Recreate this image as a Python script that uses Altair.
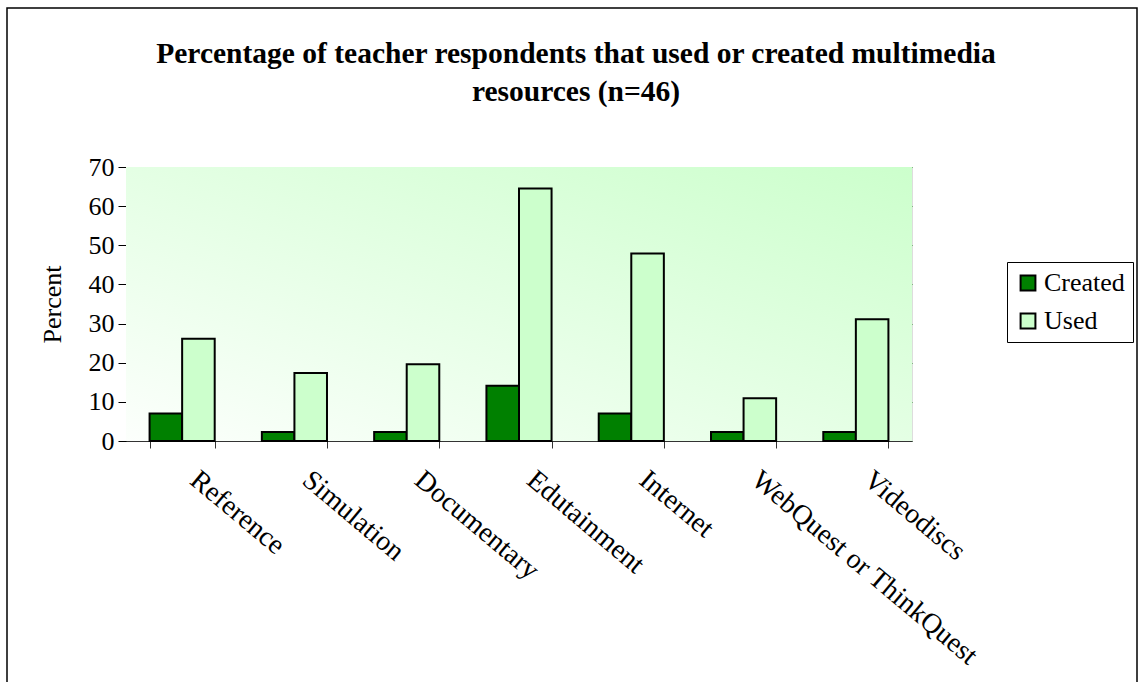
import altair as alt
import pandas as pd

categories = ["Reference", "Simulation", "Documentary", "Edutainment",
              "Internet", "WebQuest or ThinkQuest", "Videodiscs"]
created = [7.0, 2.3, 2.3, 14.1, 7.0, 2.3, 2.3]
used = [26.1, 17.4, 19.6, 64.5, 47.9, 10.9, 31.1]
series = ["Created", "Used"]
y_ticks = [0, 10, 20, 30, 40, 50, 60, 70]
title_lines = ["Percentage of teacher respondents that used or created multimedia",
               "resources (n=46)"]

rows = []
for c, a, b in zip(categories, created, used):
    rows.append({"category": c, "series": "Created", "value": a})
    rows.append({"category": c, "series": "Used", "value": b})
df = pd.DataFrame(rows)

W, H = 786, 274
FONT = "Liberation Serif"
FS = 26

bg = alt.Chart(alt.Data(values=[{}])).mark_rect(
    color=alt.LinearGradient(
        gradient="linear", x1=0, y1=1, x2=1, y2=0,
        stops=[alt.GradientStop(color="#fcfffc", offset=0),
               alt.GradientStop(color="#ccffcc", offset=1)],
    )
).encode(x=alt.value(0), x2=alt.value(W), y=alt.value(0), y2=alt.value(H))

frame = alt.Chart(alt.Data(values=[{}])).mark_rect(
    fill=None, stroke="black", strokeWidth=1.5, clip=False
).encode(x=alt.value(-119), x2=alt.value(1011), y=alt.value(-159), y2=alt.value(700))

title = alt.Chart(alt.Data(values=[{}])).mark_text(
    font=FONT, fontSize=29.5, fontWeight="bold", color="black",
    align="center", baseline="alphabetic", lineBreak="\n", lineHeight=38,
).encode(x=alt.value(450), y=alt.value(-104), text=alt.value("\n".join(title_lines)))

bars = alt.Chart(df).mark_bar(stroke="black", strokeWidth=2).encode(
    x=alt.X("category:N", sort=categories,
            scale=alt.Scale(paddingInner=0.42, paddingOuter=0.21),
            axis=alt.Axis(title=None, labelAngle=40, labelAlign="left",
                          labelBaseline="middle", labelPadding=28, labelOffset=11,
                          tickBand="extent", tickSize=7, grid=False,
                          labelFont=FONT, labelFontSize=28, labelColor="black",
                          domainColor="#333333", tickColor="#333333",
                          labelLimit=0)),
    xOffset=alt.XOffset("series:N", sort=series,
                        scale=alt.Scale(paddingInner=0, paddingOuter=0)),
    y=alt.Y("value:Q", scale=alt.Scale(domain=[0, 70], nice=False),
            axis=alt.Axis(title="Percent", values=y_ticks, tickSize=8,
                          labelFont=FONT, labelFontSize=FS, labelColor="black",
                          labelPadding=4,
                          titleFont=FONT, titleFontSize=FS, titleFontWeight="normal",
                          titleColor="black", titleAngle=-90, titleX=-66, titleY=H / 2,
                          titleAlign="center", titleBaseline="alphabetic",
                          domainColor="black", tickColor="black",
                          grid=True, gridColor="#2a8a2a", gridWidth=1)),
    color=alt.Color("series:N", sort=series,
                    scale=alt.Scale(domain=series, range=["#008000", "#ccffcc"]),
                    legend=alt.Legend(title=None, orient="none", legendX=881, legendY=95,
                                      symbolType="square", symbolSize=220,
                                      symbolStrokeColor="black", symbolStrokeWidth=2,
                                      labelFont=FONT, labelFontSize=FS, labelColor="black",
                                      rowPadding=12, padding=8, labelOffset=3,
                                      strokeColor="black", fillColor="white")),
)

chart = alt.layer(frame, bg, bars, title).properties(
    width=W, height=H,
    autosize=alt.AutoSizeParams(type="none"),
    padding={"left": 126, "top": 167, "right": 226, "bottom": 241},
).configure_view(stroke="#808080", strokeWidth=2).configure(background="white")

chart.save("out.html", embed_options={"renderer": "svg", "actions": False})
